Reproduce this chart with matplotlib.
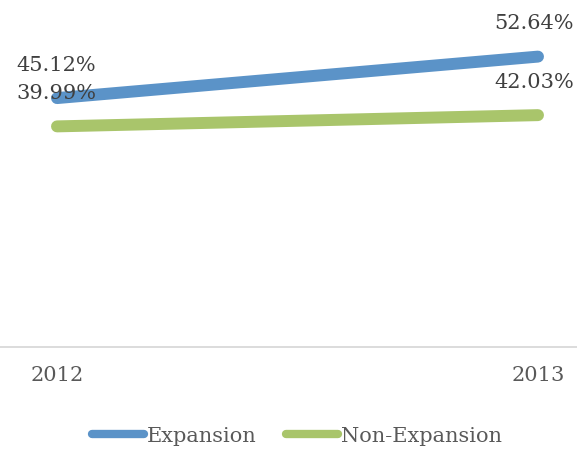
import matplotlib
matplotlib.use("Agg")
import matplotlib.pyplot as plt

# Datos
years = ["2012", "2013"]
expansion = [45.12, 52.64]
non_expansion = [39.99, 42.03]

blue = "#5b93c8"
green = "#a9c56b"
fs = 15

plt.rcParams['font.family'] = ['DejaVu Serif']

fig = plt.figure(figsize=(5.77, 4.5), dpi=100)
ax = fig.add_axes([0, 1 - 347 / 450, 1, 331 / 450])

x = list(range(len(years)))
ax.plot(x, expansion, color=blue, linewidth=8.6, solid_capstyle='round', label="Expansion")
ax.plot(x, non_expansion, color=green, linewidth=8.6, solid_capstyle='round', label="Non-Expansion")

# Etiquetas de datos (las de la derecha un poco a la izquierda para que quepan)
for serie in (expansion, non_expansion):
    for xi, v in zip(x, serie):
        dx = -4 if xi == x[-1] else -1
        ax.annotate(f"{v:.2f}%", (xi, v), xytext=(dx, 33), textcoords='offset pixels',
                    ha='center', va='center', fontsize=fs, color="#404040")

ax.set_xlim(-57 / 481, 1 + 39 / 481)
ax.set_ylim(0, 60)
ax.set_xticks(x)
ax.set_xticklabels(years, fontsize=fs, color="#595959")
ax.tick_params(axis='x', length=0, pad=14)
ax.set_yticks([])
for s in ("top", "left", "right"):
    ax.spines[s].set_visible(False)
ax.spines["bottom"].set_color("#d9d9d9")
ax.spines["bottom"].set_linewidth(1.3)

leg = fig.legend(loc='center', bbox_to_anchor=(0.515, 1 - 436 / 450), ncol=2, frameon=False,
                 fontsize=fs, handlelength=2.5, handletextpad=0.15, columnspacing=1.4)
for t in leg.get_texts():
    t.set_color("#595959")
for h in leg.legend_handles:
    h.set_linewidth(6)

fig.savefig("out.png", dpi=100)
